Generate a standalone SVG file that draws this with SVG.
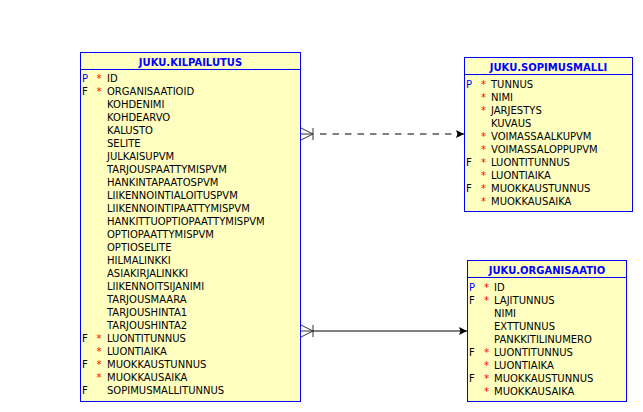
<svg xmlns="http://www.w3.org/2000/svg" width="643" height="412" viewBox="0 0 643 412">
  <defs>
    <style>
      .box { fill: #ffffc0; stroke: #0000ff; stroke-width: 1; }
      .sep { stroke: #0000ff; stroke-width: 1; }
      .title { font-family: "DejaVu Sans", Verdana, sans-serif; font-size: 10px; font-weight: bold; fill: #0000ff; text-anchor: middle; }
      .col { font-family: "DejaVu Sans", Verdana, sans-serif; font-size: 10px; fill: #000000; }
      .pk { font-family: "DejaVu Sans", Verdana, sans-serif; font-size: 10px; fill: #0000ff; }
      .fk { font-family: "DejaVu Sans", Verdana, sans-serif; font-size: 10px; fill: #000000; }
      .req { font-family: "DejaVu Sans", Verdana, sans-serif; font-size: 10px; fill: #ff0000; text-anchor: middle; }
      .rel { stroke: #000000; stroke-width: 1; fill: none; }
      .dashed { stroke-dasharray: 6.5 6; }
      .foot { stroke: #333333; stroke-width: 1; fill: none; }
    </style>
    <marker id="arrow" markerWidth="9" markerHeight="9" refX="8" refY="4.5" orient="auto" markerUnits="userSpaceOnUse">
      <path d="M0,0.5 L8,4.5 L0,8.5 L1.5,4.5 Z" fill="#000000"/>
    </marker>
  </defs>

  <rect width="643" height="412" fill="#ffffff"/>

  <!-- connectors -->
  <g id="connectors">
    <!-- KILPAILUTUS.SOPIMUSMALLITUNNUS -> SOPIMUSMALLI -->
    <g id="fk-sopimusmalli">
      <path class="foot" d="M301,128 L313,134 L301,140 M301,134 L313,134 M313,128 L313,140"/>
      <path class="rel dashed" d="M320,134 L464,134" marker-end="url(#arrow)"/>
    </g>
    <!-- KILPAILUTUS.ORGANISAATIOID -> ORGANISAATIO -->
    <g id="fk-organisaatio">
      <path class="foot" d="M301,325 L313,331 L301,337 M301,331 L313,331 M313,325 L313,337"/>
      <path class="rel" d="M313,331 L467,331" marker-end="url(#arrow)"/>
    </g>
  </g>

  <!-- table JUKU.KILPAILUTUS -->
  <g id="kilpailutus">
    <rect class="box" x="80.5" y="52.5" width="220" height="349"/>
    <line class="sep" x1="80.5" y1="69.5" x2="300.5" y2="69.5"/>
    <text class="title" x="190.5" y="66">JUKU.KILPAILUTUS</text>
    <text class="pk" x="82" y="82">P</text><text class="req" x="99" y="82">*</text><text class="col" x="107" y="82">ID</text>
    <text class="fk" x="82" y="95">F</text><text class="req" x="99" y="95">*</text><text class="col" x="107" y="95">ORGANISAATIOID</text>
    <text class="col" x="107" y="108">KOHDENIMI</text>
    <text class="col" x="107" y="121">KOHDEARVO</text>
    <text class="col" x="107" y="134">KALUSTO</text>
    <text class="col" x="107" y="147">SELITE</text>
    <text class="col" x="107" y="160">JULKAISUPVM</text>
    <text class="col" x="107" y="173">TARJOUSPAATTYMISPVM</text>
    <text class="col" x="107" y="186">HANKINTAPAATOSPVM</text>
    <text class="col" x="107" y="199">LIIKENNOINTIALOITUSPVM</text>
    <text class="col" x="107" y="212">LIIKENNOINTIPAATTYMISPVM</text>
    <text class="col" x="107" y="225">HANKITTUOPTIOPAATTYMISPVM</text>
    <text class="col" x="107" y="238">OPTIOPAATTYMISPVM</text>
    <text class="col" x="107" y="251">OPTIOSELITE</text>
    <text class="col" x="107" y="264">HILMALINKKI</text>
    <text class="col" x="107" y="277">ASIAKIRJALINKKI</text>
    <text class="col" x="107" y="290">LIIKENNOITSIJANIMI</text>
    <text class="col" x="107" y="303">TARJOUSMAARA</text>
    <text class="col" x="107" y="316">TARJOUSHINTA1</text>
    <text class="col" x="107" y="329">TARJOUSHINTA2</text>
    <text class="fk" x="82" y="342">F</text><text class="req" x="99" y="342">*</text><text class="col" x="107" y="342">LUONTITUNNUS</text>
    <text class="req" x="99" y="355">*</text><text class="col" x="107" y="355">LUONTIAIKA</text>
    <text class="fk" x="82" y="368">F</text><text class="req" x="99" y="368">*</text><text class="col" x="107" y="368">MUOKKAUSTUNNUS</text>
    <text class="req" x="99" y="381">*</text><text class="col" x="107" y="381">MUOKKAUSAIKA</text>
    <text class="fk" x="82" y="394">F</text><text class="col" x="107" y="394">SOPIMUSMALLITUNNUS</text>
  </g>

  <!-- table JUKU.SOPIMUSMALLI -->
  <g id="sopimusmalli">
    <rect class="box" x="464.5" y="57.5" width="168" height="154"/>
    <line class="sep" x1="464.5" y1="74.5" x2="632.5" y2="74.5"/>
    <text class="title" x="548.5" y="71">JUKU.SOPIMUSMALLI</text>
    <text class="pk" x="466" y="87.5">P</text><text class="req" x="483.5" y="87.5">*</text><text class="col" x="491" y="87.5">TUNNUS</text>
    <text class="req" x="483.5" y="100.5">*</text><text class="col" x="491" y="100.5">NIMI</text>
    <text class="req" x="483.5" y="113.5">*</text><text class="col" x="491" y="113.5">JARJESTYS</text>
    <text class="col" x="491" y="126.5">KUVAUS</text>
    <text class="req" x="483.5" y="139.5">*</text><text class="col" x="491" y="139.5">VOIMASSAALKUPVM</text>
    <text class="req" x="483.5" y="152.5">*</text><text class="col" x="491" y="152.5">VOIMASSALOPPUPVM</text>
    <text class="fk" x="466" y="165.5">F</text><text class="req" x="483.5" y="165.5">*</text><text class="col" x="491" y="165.5">LUONTITUNNUS</text>
    <text class="req" x="483.5" y="178.5">*</text><text class="col" x="491" y="178.5">LUONTIAIKA</text>
    <text class="fk" x="466" y="191.5">F</text><text class="req" x="483.5" y="191.5">*</text><text class="col" x="491" y="191.5">MUOKKAUSTUNNUS</text>
    <text class="req" x="483.5" y="204.5">*</text><text class="col" x="491" y="204.5">MUOKKAUSAIKA</text>
  </g>

  <!-- table JUKU.ORGANISAATIO -->
  <g id="organisaatio">
    <rect class="box" x="467.5" y="260.5" width="159" height="141"/>
    <line class="sep" x1="467.5" y1="277.5" x2="626.5" y2="277.5"/>
    <text class="title" x="547" y="274">JUKU.ORGANISAATIO</text>
    <text class="pk" x="469" y="290.5">P</text><text class="req" x="486.5" y="290.5">*</text><text class="col" x="494" y="290.5">ID</text>
    <text class="fk" x="469" y="303.5">F</text><text class="req" x="486.5" y="303.5">*</text><text class="col" x="494" y="303.5">LAJITUNNUS</text>
    <text class="col" x="494" y="316.5">NIMI</text>
    <text class="col" x="494" y="329.5">EXTTUNNUS</text>
    <text class="col" x="494" y="342.5">PANKKITILINUMERO</text>
    <text class="fk" x="469" y="355.5">F</text><text class="req" x="486.5" y="355.5">*</text><text class="col" x="494" y="355.5">LUONTITUNNUS</text>
    <text class="req" x="486.5" y="368.5">*</text><text class="col" x="494" y="368.5">LUONTIAIKA</text>
    <text class="fk" x="469" y="381.5">F</text><text class="req" x="486.5" y="381.5">*</text><text class="col" x="494" y="381.5">MUOKKAUSTUNNUS</text>
    <text class="req" x="486.5" y="394.5">*</text><text class="col" x="494" y="394.5">MUOKKAUSAIKA</text>
  </g>
</svg>
